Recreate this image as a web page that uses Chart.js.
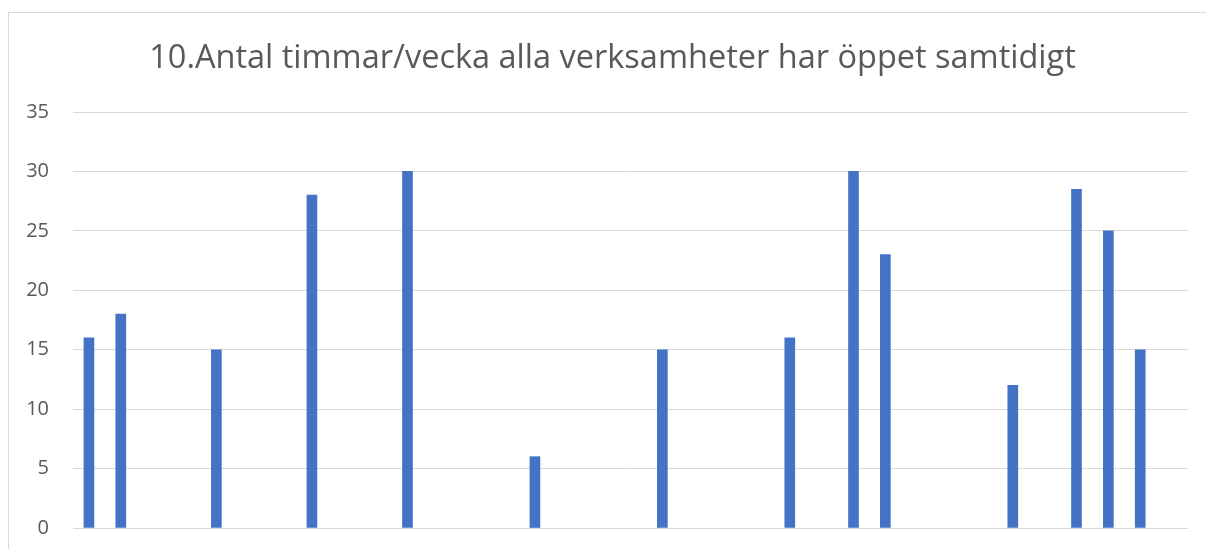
<!DOCTYPE html>
<html>
<head>
<meta charset="utf-8">
<script src="https://cdn.jsdelivr.net/npm/chart.js@4"></script>
<style>
    html, body { margin: 0; padding: 0; background: #fff; }
    #wrap { position: relative; width: 1206px; height: 549px; overflow: hidden; }
    #frame { position: absolute; left: 8px; top: 12px; width: 1220px; height: 560px; border: 1px solid #d9d9d9; box-sizing: border-box; }
    #chart { position: absolute; left: 0; top: 0; }
</style>
</head>
<body>
<div id="wrap">
    <div id="frame"></div>
    <canvas id="chart" width="1206" height="549"></canvas>
</div>
<script>
// --- Dữ liệu ---
const titleText = '10.Antal timmar/vecka alla verksamheter har öppet samtidigt';
const categories = Array.from({ length: 35 }, (_, i) => String(i + 1));
const hours = [
    16, 18, null, null, 15, null, null, 28, null, null,
    30, null, null, null, 6, null, null, null, 15, null,
    null, null, 16, null, 30, 23, null, null, null, 12,
    null, 28.5, 25, 15, null
];
const yTicks = [0, 5, 10, 15, 20, 25, 30, 35];

// dời tiêu đề sang phải một chút cho giống bản gốc
const titleShift = {
    id: 'titleShift',
    afterLayout(chart) {
        if (chart.titleBlock) {
            chart.titleBlock.left = 37;
            chart.titleBlock.right = 1188;
        }
    }
};

const ctx = document.getElementById('chart').getContext('2d');
new Chart(ctx, {
    type: 'bar',
    data: {
        labels: categories,
        datasets: [{
            label: 'Timmar',
            data: hours,
            backgroundColor: '#4472c4',
            borderWidth: 0,
            barThickness: 10
        }]
    },
    options: {
        responsive: false,
        animation: false,
        layout: { padding: { left: 0, right: 18, top: 0, bottom: 21 } },
        plugins: {
            legend: { display: false },
            tooltip: { enabled: false },
            title: {
                display: true,
                text: titleText,
                color: '#595959',
                font: { family: 'Open Sans', size: 32.5, weight: 'normal' },
                padding: { top: 39, bottom: 34 }
            }
        },
        scales: {
            x: {
                display: false
            },
            y: {
                min: 0,
                max: 35,
                afterBuildTicks: axis => { axis.ticks = yTicks.map(v => ({ value: v })); },
                afterFit: axis => {
                    axis.width = 73;
                    axis.paddingTop = 0;
                    axis.paddingBottom = 0;
                },
                border: { display: false },
                grid: { color: '#d9d9d9', lineWidth: 1, drawTicks: false },
                ticks: {
                    color: '#595959',
                    padding: 24,
                    font: { family: 'Open Sans', size: 20 }
                }
            }
        }
    },
    plugins: [titleShift]
});
</script>
</body>
</html>
